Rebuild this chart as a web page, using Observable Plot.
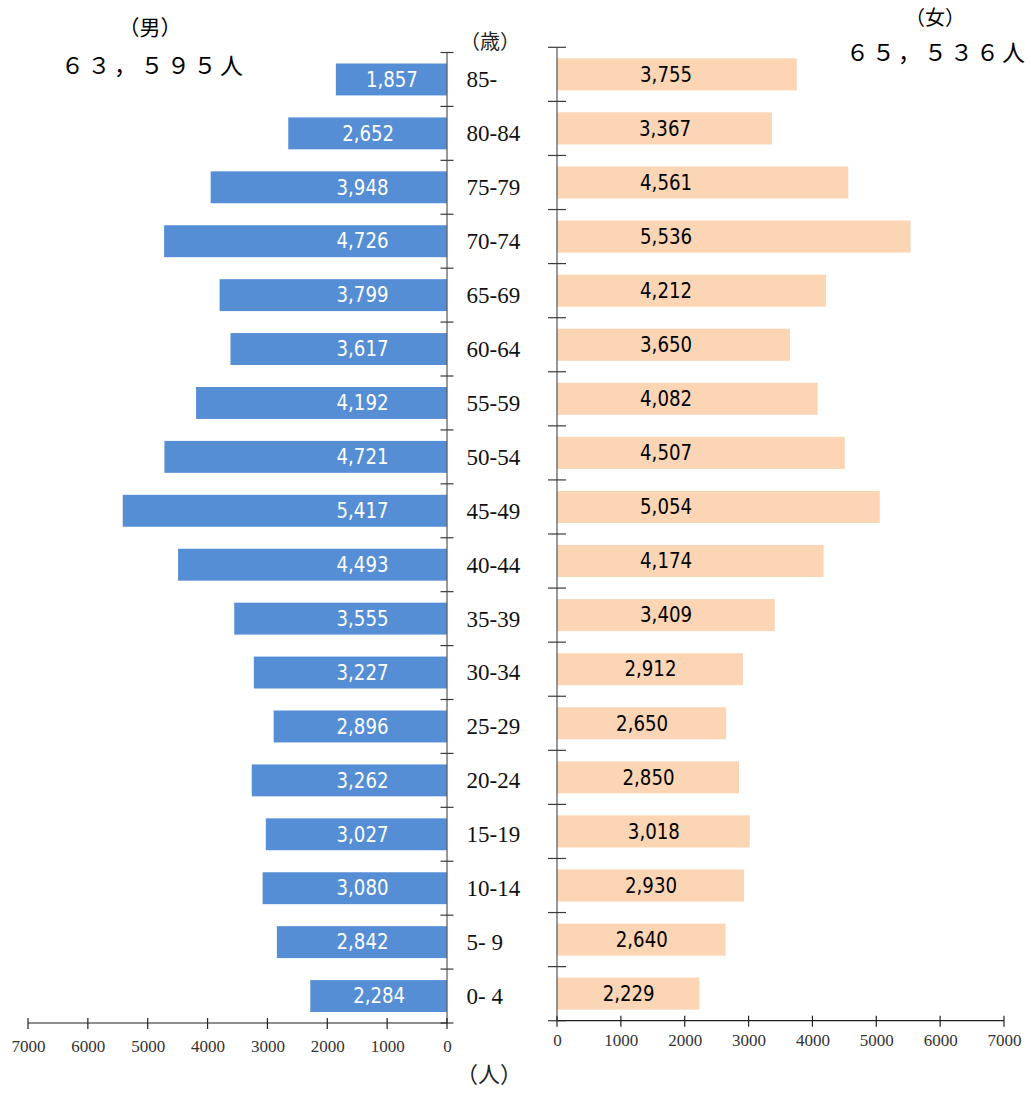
<!DOCTYPE html>
<html><head><meta charset="utf-8">
<script src="https://cdn.jsdelivr.net/npm/d3@7"></script>
<script src="https://cdn.jsdelivr.net/npm/@observablehq/plot@0.6"></script>
<style>
body{margin:0;background:#fff;}
#wrap{position:relative;width:1031px;height:1093px;overflow:hidden;background:#fff;}
.lbl{position:absolute;white-space:nowrap;line-height:1;color:#000;}
.jp{font-family:"Noto Sans CJK JP","Noto Sans",sans-serif;}
.serif{font-family:"Liberation Serif","DejaVu Serif","Noto Sans CJK JP",serif;color:#222;}
#left,#right{position:absolute;top:0;}
#left{left:0;} #right{left:540px;}
</style></head><body>
<div id="wrap">
  <div class="lbl jp" style="left:150px;top:26px;font-size:21px;transform:translate(-50%,-50%);">（男）</div>
  <div class="lbl jp" style="left:61px;top:64px;font-size:23px;letter-spacing:3.5px;transform:translateY(-50%);">６３，５９５人</div>
  <div class="lbl jp" style="left:935px;top:17px;font-size:20px;transform:translate(-50%,-50%);">（女）</div>
  <div class="lbl jp" style="left:846px;top:51px;font-size:23px;letter-spacing:3px;transform:translateY(-50%);">６５，５３６人</div>
  <div class="lbl serif" style="left:460px;top:42px;font-size:20px;transform:translateY(-50%);">（歳）</div>
  <div class="lbl serif" style="left:456px;top:1075px;font-size:22px;transform:translateY(-50%);">（人）</div>
  <div id="left"></div>
  <div id="right"></div>
</div>
<script>
const ages = ["85-","80-84","75-79","70-74","65-69","60-64","55-59","50-54","45-49","40-44","35-39","30-34","25-29","20-24","15-19","10-14","5- 9","0- 4"];
const male = [1857,2652,3948,4726,3799,3617,4192,4721,5417,4493,3555,3227,2896,3262,3027,3080,2842,2284];
const female = [3755,3367,4561,5536,4212,3650,4082,4507,5054,4174,3409,2912,2650,2850,3018,2930,2640,2229];
const xTicks = [0,1000,2000,3000,4000,5000,6000,7000];

const maleData = ages.map((a, i) => ({age: a, v: male[i]}));
const femaleData = ages.map((a, i) => ({age: a, v: female[i]}));
const fmt = d3.format(",");
const NARROW = "'Liberation Sans Narrow','DejaVu Sans Condensed','Arial Narrow','Liberation Sans',sans-serif";
const SERIF = "'Liberation Serif','DejaVu Serif',serif";

function axisLines(tickHalf) {
  return (index, scales, values, dims) => {
    const {x, y} = scales;
    const g = d3.create("svg:g").attr("stroke", "#3a3a3a").attr("stroke-width", 1.2).attr("fill", "none");
    const x0 = x(0);
    const top = dims.marginTop, bottom = dims.height - dims.marginBottom;
    g.append("line").attr("x1", x0).attr("x2", x0).attr("y1", top).attr("y2", bottom).attr("stroke", "#555");
    const bounds = ages.map(a => y(a)).concat([bottom]);
    for (const b of bounds) g.append("line").attr("x1", x0 - tickHalf).attr("x2", x0 + tickHalf).attr("y1", b).attr("y2", b);
    const xs = xTicks.map(t => x(t));
    g.append("line").attr("x1", d3.min(xs)).attr("x2", d3.max(xs)).attr("y1", bottom).attr("y2", bottom).attr("stroke", "#222");
    for (const px of xs) g.append("line").attr("x1", px).attr("x2", px).attr("y1", bottom - 5).attr("y2", bottom + 6).attr("stroke", "#222");
    return g.node();
  };
}

function side({data, width, marginLeft, marginRight, marginTop, marginBottom, reverse, color, labelColor, labelCap, tickPad, tickHalf, showAges}) {
  const marks = [
    Plot.barX(data, {x: "v", y: "age", fill: color, insetTop: 11, insetBottom: 11}),
    Plot.text(data, {x: d => Math.min(d.v / 2, labelCap), y: "age", text: d => fmt(d.v), fill: labelColor, fontSize: 21, fontFamily: NARROW, textAnchor: "middle"}),
    axisLines(tickHalf),
    Plot.text(xTicks, {x: d => d, frameAnchor: "bottom", lineAnchor: "top", dy: tickPad, text: d => String(d), fontSize: 17, fontFamily: SERIF, fill: "#333"})
  ];
  if (showAges) marks.push(Plot.text(ages, {y: d => d, frameAnchor: "right", dx: 19, textAnchor: "start", text: d => d, fontSize: 23, fontFamily: SERIF, fill: "#111"}));
  return Plot.plot({
    width, height: 1093, marginLeft, marginRight, marginTop, marginBottom,
    style: {background: "transparent", overflow: "visible"},
    x: {domain: [0, 7000], reverse, axis: null},
    y: {domain: ages, padding: 0, round: false, axis: null},
    marks
  });
}

const L = side({data: maleData, width: 540, marginLeft: 28, marginRight: 93, marginTop: 52.5, marginBottom: 70, reverse: true,
  color: "#558ed5", labelColor: "#ffffff", labelCap: 1420, tickPad: 16, tickHalf: 6.5, showAges: true});
const R = side({data: femaleData, width: 491, marginLeft: 17, marginRight: 27, marginTop: 47.3, marginBottom: 72.3, reverse: false,
  color: "#fcd5b5", labelColor: "#000000", labelCap: 1700, tickPad: 13, tickHalf: 9, showAges: false});
document.getElementById("left").appendChild(L);
document.getElementById("right").appendChild(R);

// keep the narrow value labels at the width of the original glyphs
for (const svg of [L, R]) {
  d3.select(svg).selectAll('g[font-family*="Narrow"] text').each(function() {
    const w = this.getComputedTextLength();
    if (Math.abs(w - 52) > 2) { this.setAttribute("textLength", 52); this.setAttribute("lengthAdjust", "spacingAndGlyphs"); }
  });
}
</script>
</body></html>
